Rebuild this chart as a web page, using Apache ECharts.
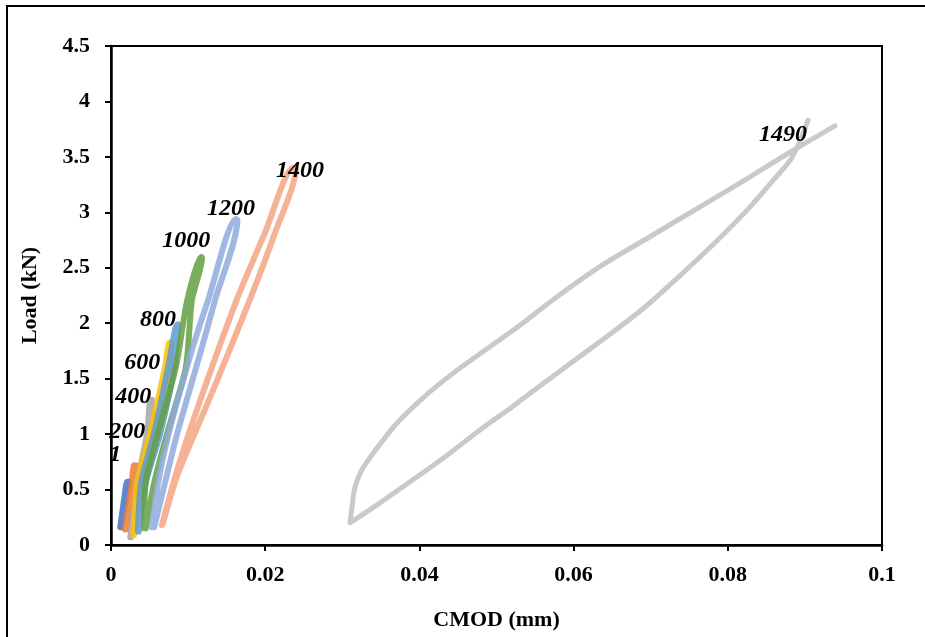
<!DOCTYPE html>
<html>
<head>
<meta charset="utf-8">
<script src="https://cdn.jsdelivr.net/npm/echarts@6/dist/echarts.min.js"></script>
<style>
  html, body { margin: 0; padding: 0; background: #fff; }
  #chart { width: 925px; height: 637px; }
</style>
</head>
<body>
<div id="chart"></div>
<script>
// cycle names and CMOD (mm) / Load (kN) loops
var cycles = ['1', '200', '400', '600', '800', '1000', '1200', '1400', '1490'];

var loop1 = [[0.0012, 0.16], [0.0017, 0.41], [0.0021, 0.57], [0.0023, 0.57], [0.0019, 0.41], [0.0013, 0.16]];
var loop200 = [[0.0018, 0.14], [0.0026, 0.50], [0.0030, 0.72], [0.0032, 0.72], [0.0030, 0.50], [0.0019, 0.14]];
var loop400 = [[0.0025, 0.07], [0.0034, 0.56], [0.0047, 1.01], [0.0051, 1.31], [0.0053, 1.31], [0.0053, 1.01], [0.0038, 0.56], [0.0026, 0.07]];
var loop600 = [[0.0029, 0.09], [0.0034, 0.56], [0.0051, 1.01], [0.0070, 1.60], [0.0075, 1.82], [0.0078, 1.83], [0.0076, 1.60], [0.0057, 1.01], [0.0040, 0.56], [0.0030, 0.09]];
var loop800 = [[0.0035, 0.12], [0.0039, 0.56], [0.0056, 1.01], [0.0074, 1.60], [0.0084, 1.97], [0.0087, 1.99], [0.0082, 1.60], [0.0064, 1.01], [0.0045, 0.56], [0.0036, 0.12]];
var loop1000 = [[0.0043, 0.15], [0.0045, 0.56], [0.0061, 1.01], [0.0084, 1.60], [0.0099, 2.21], [0.0117, 2.60], [0.0118, 2.59], [0.0105, 2.21], [0.0097, 1.60], [0.0073, 1.01], [0.0056, 0.56], [0.0045, 0.15]];
var loop1200 = [[0.0053, 0.16], [0.0061, 0.56], [0.0075, 1.01], [0.0105, 1.76], [0.0126, 2.21], [0.0162, 2.94], [0.0164, 2.93], [0.0135, 2.21], [0.0117, 1.76], [0.0086, 1.01], [0.0070, 0.56], [0.0056, 0.16]];
var loop1400 = [[0.0066, 0.18], [0.0083, 0.61], [0.0107, 1.13], [0.0163, 2.21], [0.0200, 2.82], [0.0236, 3.40], [0.0240, 3.39], [0.0213, 2.82], [0.0180, 2.21], [0.0135, 1.44], [0.0102, 0.90], [0.0086, 0.63], [0.0074, 0.36], [0.0067, 0.19]];
var loop1490 = [[0.0939, 3.78], [0.0885, 3.56], [0.0829, 3.32], [0.0764, 3.05], [0.0699, 2.78], [0.0634, 2.51], [0.0573, 2.21], [0.0534, 2.00], [0.0492, 1.79], [0.0444, 1.55], [0.0405, 1.33], [0.0371, 1.10], [0.0349, 0.91], [0.0335, 0.78], [0.0324, 0.66], [0.0316, 0.51], [0.0313, 0.36], [0.0310, 0.20],
                [0.0349, 0.38], [0.0392, 0.59], [0.0436, 0.81], [0.0479, 1.04], [0.0521, 1.25], [0.0565, 1.48], [0.0608, 1.70], [0.0651, 1.92], [0.0695, 2.16], [0.0738, 2.43], [0.0781, 2.71], [0.0825, 3.02], [0.0859, 3.29], [0.0881, 3.47], [0.0894, 3.65], [0.0904, 3.83]];

var loops = [loop1, loop200, loop400, loop600, loop800, loop1000, loop1200, loop1400, loop1490];

var xTicks = { min: 0, max: 0.1, interval: 0.02 };
var yTicks = { min: 0, max: 4.5, interval: 0.5 };

// look of each cycle: colour, width, label offset from the loop's peak
var colors = ['#4472C4', '#ED7D31', '#A5A5A5', '#FFC000', '#5B9BD5', '#62A040', '#8FAADC', '#F3A483', '#C0C0C0'];
var widths = [6, 6, 6, 6, 6, 6, 6, 6, 5];
var labelOffsets = [[-12, -27], [-7, -33], [-17, -3], [-29, 21], [-20, -5], [-15, -16], [-5, -10], [7, 3], [-25, 15]];

var serif = '"Liberation Serif", "Times New Roman", serif';

var series = cycles.map(function (name, i) {
    return {
        name: name,
        type: 'line',
        data: loops[i],
        showSymbol: false,
        smooth: i === 8 ? 0.3 : 0.25,
        z: 2 + i,
        lineStyle: {
            color: colors[i],
            width: widths[i],
            opacity: 0.85,
            cap: 'round',
            join: 'round'
        },
        markPoint: {
            symbol: 'circle',
            symbolSize: 1,
            itemStyle: { color: 'rgba(0,0,0,0)' },
            z: 20,
            label: {
                show: true,
                position: 'inside',
                offset: labelOffsets[i],
                formatter: name,
                color: '#000',
                fontFamily: serif,
                fontWeight: 'bold',
                fontStyle: 'italic',
                fontSize: 24
            },
            data: [{ type: 'max', valueDim: 'y' }]
        }
    };
});

var chart = echarts.init(document.getElementById('chart'));
chart.setOption({
    backgroundColor: '#fff',
    animation: false,
    graphic: [{
        type: 'rect',
        shape: { x: 7, y: 6, width: 950, height: 660 },
        style: { fill: 'none', stroke: '#000', lineWidth: 2 },
        silent: true
    }],
    grid: {
        left: 111,
        right: 43,
        top: 46,
        bottom: 92,
        show: true,
        borderColor: '#000',
        borderWidth: 2
    },
    xAxis: {
        type: 'value',
        min: xTicks.min,
        max: xTicks.max,
        interval: xTicks.interval,
        name: 'CMOD (mm)',
        nameLocation: 'middle',
        nameGap: 64,
        nameTextStyle: { color: '#000', fontFamily: serif, fontWeight: 'bold', fontSize: 22 },
        axisLine: { lineStyle: { color: '#000', width: 2.5 } },
        axisTick: { show: true, inside: false, length: 6, lineStyle: { color: '#000', width: 2 } },
        splitLine: { show: false },
        axisLabel: {
            margin: 19,
            color: '#000',
            fontFamily: serif,
            fontWeight: 'bold',
            fontSize: 22,
            formatter: function (v) { return String(+v.toFixed(2)); }
        }
    },
    yAxis: {
        type: 'value',
        min: yTicks.min,
        max: yTicks.max,
        interval: yTicks.interval,
        name: 'Load (kN)',
        nameLocation: 'middle',
        nameGap: 70,
        nameRotate: 90,
        nameTextStyle: { color: '#000', fontFamily: serif, fontWeight: 'bold', fontSize: 22 },
        axisLine: { show: true, lineStyle: { color: '#000', width: 2.5 } },
        axisTick: { show: true, inside: false, length: 6, lineStyle: { color: '#000', width: 2 } },
        splitLine: { show: false },
        axisLabel: {
            margin: 21,
            color: '#000',
            fontFamily: serif,
            fontWeight: 'bold',
            fontSize: 22,
            formatter: function (v) { return String(+v.toFixed(1)); }
        }
    },
    series: series
});
</script>
</body>
</html>
